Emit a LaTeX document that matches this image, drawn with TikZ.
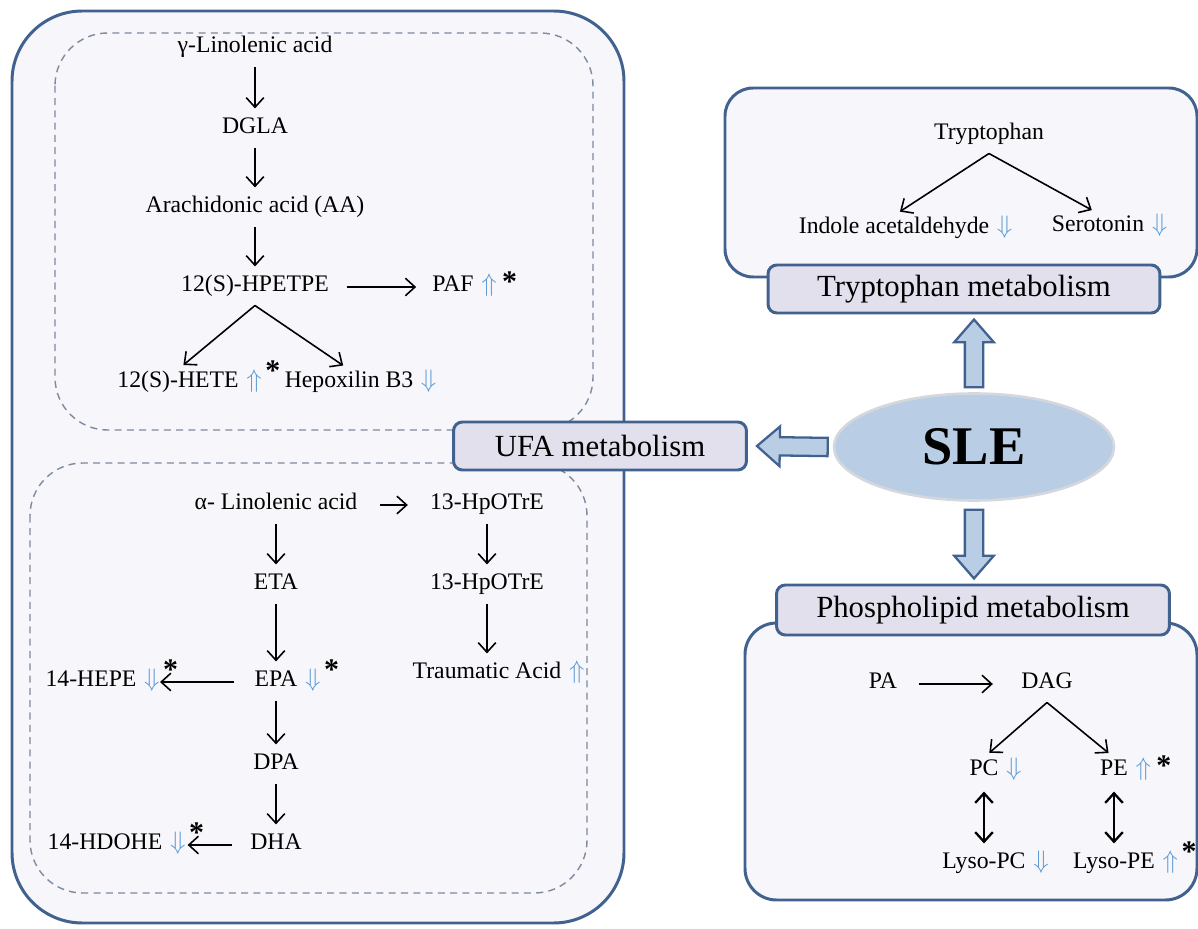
\documentclass[tikz,border=0pt]{standalone}
\usepackage{fontspec}
\setmainfont{Liberation Serif}
\usetikzlibrary{arrows.meta,calc,positioning,shapes.geometric}

\definecolor{frameblue}{RGB}{65,98,143}
\definecolor{panelfill}{RGB}{247,246,250}
\definecolor{tagfill}{RGB}{226,224,236}
\definecolor{slefill}{RGB}{185,205,229}
\definecolor{sleedge}{RGB}{212,216,222}
\definecolor{dashgray}{RGB}{125,138,160}
\definecolor{trendblue}{RGB}{91,155,213}

\newcommand{\incr}{\textcolor{trendblue}{$\Uparrow$}}
\newcommand{\decr}{\textcolor{trendblue}{$\Downarrow$}}
\newcommand{\sig}{\hspace{3pt}{\fontsize{17}{17}\selectfont\bfseries *}}
\newcommand{\sigup}{\hspace{2pt}\raisebox{4pt}{\fontsize{17}{17}\selectfont\bfseries *}}
% block arrow from #1 (tail) to #2 (tip)
\newcommand{\fatarrow}[2]{%
  \coordinate (fa-h) at ($(#2)!13pt!(#1)$);
  \path[blockarrow] ($(#1)!5.2pt!90:(#2)$) -- ($(fa-h)!5.2pt!90:(#2)$)
    -- ($(fa-h)!11.3pt!90:(#2)$) -- (#2) -- ($(fa-h)!11.3pt!-90:(#2)$)
    -- ($(fa-h)!5.2pt!-90:(#2)$) -- ($(#1)!5.2pt!-90:(#2)$) -- cycle;}

\begin{document}
\begin{tikzpicture}[x=0.02cm,y=-0.02cm,
            every node/.style={font=\fontsize{13.5}{16}\selectfont},
            txt/.style={inner sep=3pt,text height=0.7em,text depth=0.2em},
            trend/.style={inner sep=1pt,text height=0.7em,text depth=0.2em},
            incr/.style={label={[trend]east:\incr#1}}, incr/.default=,
            decr/.style={label={[trend]east:\decr#1}}, decr/.default=,
            tag/.style={draw=frameblue,line width=1.7pt,fill=tagfill,rounded corners=5pt,
                        inner sep=0pt,font=\fontsize{17.5}{20}\selectfont},
            panel/.style={draw=frameblue,line width=1.7pt,fill=panelfill,rounded corners=#1},
            zone/.style={draw=dashgray,line width=0.8pt,dash pattern=on 4pt off 3pt,rounded corners=#1},
            blockarrow/.style={draw=frameblue,fill=slefill,line width=1.3pt,line join=miter},
            >={Straight Barb[length=5.5pt,width=10pt]},
            flow/.style={->,line width=0.9pt,shorten <=3pt,shorten >=4pt},
            branchflow/.style={->,line width=0.9pt,shorten >=4pt},
            exchange/.style={<->,line width=1.3pt,shorten <=4pt,shorten >=4pt}
          ]
          \useasboundingbox (0,0) rectangle (1198,929);

          %panels
          \draw[panel=40pt] (12,11) rectangle (624,923);
          \draw[zone=30pt] (55,33) rectangle (593,430);
          \draw[zone=30pt] (30,463) rectangle (587,893);
          \draw[panel=16pt] (725,88) rectangle (1197,277);
          \draw[panel=18pt] (745,623) rectangle (1197,900);

          %titles
          \node[tag,minimum width=5.86cm,minimum height=0.96cm] (ufa) at (600,446) {UFA metabolism};
          \node[tag,minimum width=7.84cm,minimum height=0.96cm] (trp-tag) at (964,289) {Tryptophan metabolism};
          \node[tag,minimum width=7.86cm,minimum height=1.0cm] (phos-tag) at (973,610) {Phospholipid metabolism};
          \node[ellipse,draw=sleedge,line width=1.5pt,fill=slefill,minimum width=5.6cm,minimum height=2.14cm,
                font=\fontsize{31}{31}\selectfont\bfseries] (sle) at (974,447) {SLE};

          %block arrows
          \fatarrow{$(sle.west)+(-5,0)$}{$(ufa.east)+(9,0)$}
          \fatarrow{$(sle.north)+(0,-5)$}{$(sle.north |- trp-tag.south)+(0,5)$}
          \fatarrow{$(sle.south)+(0,8)$}{$(sle.south |- phos-tag.north)+(0,-5)$}

          %omega-6 branch
          \node[txt] (gla) at (255,48) {γ-Linolenic acid};
          \node[txt] (dgla) at (255,129) {DGLA};
          \node[txt] (aa) at (255,208) {Arachidonic acid (AA)};
          \node[txt] (hpetpe) at (255,287) {12(S)-HPETPE};
          \node[txt,incr=\sig] (paf) at (453,287) {PAF};
          \node[txt,incr=\sigup] (hete) at (178,383) {12(S)-HETE};
          \node[txt,decr] (hepox) at (349,383) {Hepoxilin B3};
          \coordinate (hpetpe-fork) at ($(hpetpe.south)+(0,5)$);

          %omega-3 branch
          \node[txt] (ala) at (276,505) {α- Linolenic acid};
          \node[txt] (hpo1) at (487,505) {13-HpOTrE};
          \node[txt] (eta) at (276,585) {ETA};
          \node[txt] (hpo2) at (487,585) {13-HpOTrE};
          \node[txt,decr=\sigup] (epa) at (276,682) {EPA};
          \node[txt,label={[trend,name=hepe-m]east:\decr\rlap{\sigup}}] (hepe) at (91,682) {14-HEPE};
          \node[txt,incr] (trauma) at (487,674) {Traumatic Acid};
          \node[txt] (dpa) at (276,765) {DPA};
          \node[txt] (dha) at (276,845) {DHA};
          \node[txt,label={[trend,name=hdohe-m]east:\decr\rlap{\sigup}}] (hdohe) at (105,845) {14-HDOHE};

          %tryptophan
          \node[txt] (trp) at (989,135) {Tryptophan};
          \node[txt,decr] (indole) at (894,229) {Indole acetaldehyde};
          \node[txt,decr] (sero) at (1098,227) {Serotonin};
          \coordinate (trp-fork) at ($(trp.south)+(0,5)$);

          %phospholipids
          \node[txt] (pa) at (883,684) {PA};
          \node[txt] (dag) at (1047,684) {DAG};
          \node[txt,decr] (pc) at (984,771) {PC};
          \node[txt,incr=\sig] (pe) at (1114,771) {PE};
          \node[txt,decr] (lpc) at (984,864) {Lyso-PC};
          \node[txt,incr=\sigup] (lpe) at (1114,864) {Lyso-PE};
          \coordinate (dag-fork) at ($(dag.south)+(0,5)$);

          \path[flow]
          (gla) edge (dgla)
          (dgla) edge (aa)
          (aa) edge (hpetpe)
          (hpetpe) edge[shorten <=7pt,shorten >=6pt] (paf)
          (ala) edge[shorten <=10pt,shorten >=9.5pt] (hpo1)
          (ala) edge (eta)
          (eta) edge (epa)
          (epa) edge (dpa)
          (dpa) edge (dha)
          (hpo1) edge (hpo2)
          (hpo2) edge (trauma)
          (epa.west) edge[shorten <=8.5pt,shorten >=-1pt] (epa.west -| hepe-m.east)
          (dha.west) edge[shorten <=7pt,shorten >=0pt] (dha.west -| hdohe-m.east)
          (pa) edge[shorten <=9pt,shorten >=13pt] (dag)
          ;
          \path[branchflow]
          (hpetpe-fork) edge (hete.north)
          (hpetpe-fork) edge (hepox.north)
          (trp-fork) edge (indole.north)
          (trp-fork) edge (sero.north)
          (dag-fork) edge (pc.north)
          (dag-fork) edge (pe.north)
          ;
          \path[exchange]
          (pc) edge (lpc)
          (pe) edge (lpe)
          ;
      \end{tikzpicture}
\end{document}
